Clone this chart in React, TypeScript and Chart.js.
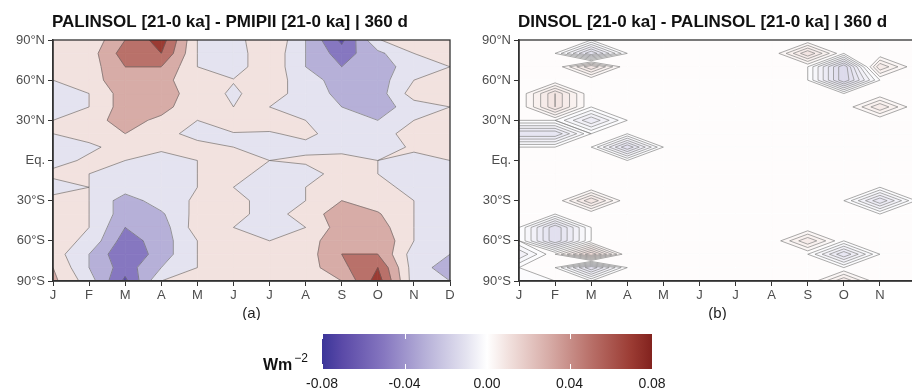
import React, { useEffect, useRef } from "react";
import { Chart, registerables } from "chart.js";

Chart.register(...registerables);

const FONT = "'Liberation Sans', Arial, Helvetica, sans-serif";
Chart.defaults.font.family = FONT;

// ---------- axes ----------
const monthLabels = ["J", "F", "M", "A", "M", "J", "J", "A", "S", "O", "N", "D"];
const monthPositions = [0, 1, 2, 3, 4, 5, 6, 7, 8, 9, 10, 11];
const gridLatitudes = [90, 80, 70, 60, 50, 40, 30, 20, 10, 0, -10, -20, -30, -40, -50, -60, -70, -80, -90];
const latTickValues = [-90, -60, -30, 0, 30, 60, 90];
const latTickLabels = ["90°S", "60°S", "30°S", "Eq.", "30°N", "60°N", "90°N"];

// ---------- panel (a): PALINSOL - PMIPII (W m-2), columns J..D ----------
const titleA = "PALINSOL [21-0 ka] - PMIPII [21-0 ka] | 360 d";
const labelA = "(a)";
const levelsA = [-0.08, -0.06, -0.04, -0.02, 0, 0.02, 0.04, 0.06, 0.08];
const a90N = [0.01, 0.005, 0.04, 0.07, 0, -0.01, 0.02, -0.02, -0.065, -0.001, 0.01, 0.01];
const a80N = [0.01, 0.01, 0.05, 0.06, 0, -0.01, 0.015, -0.02, -0.05, -0.025, 0, 0.01];
const a70N = [0.01, 0.01, 0.04, 0.04, 0, -0.01, 0.015, -0.02, -0.04, -0.03, -0.01, 0];
const a60N = [0, 0.01, 0.035, 0.03, 0, 0.001, 0.01, -0.01, -0.03, -0.03, 0, 0.01];
const a50N = [-0.01, 0, 0.03, 0.03, 0.01, -0.003, 0.01, -0.01, -0.025, -0.03, 0.01, 0.01];
const a40N = [-0.01, 0, 0.03, 0.03, 0, 0, 0, -0.01, -0.02, -0.03, -0.01, 0];
const a30N = [0, 0.01, 0.03, 0.014, 0, 0.01, 0.01, 0, -0.02, -0.02, 0, 0];
const a20N = [0, 0.01, 0.02, 0.01, -0.01, -0.001, -0.002, 0.005, -0.01, -0.01, 0.01, 0.01];
const a10N = [-0.01, -0.005, 0.01, 0.005, 0.01, 0, -0.01, -0.006, -0.01, -0.01, 0.003, 0.01];
const aEq = [-0.01, 0.005, 0, -0.01, 0, 0.01, 0, 0.004, 0.01, 0, -0.005, 0];
const a10S = [0.007, 0, -0.01, -0.01, 0, 0.01, -0.01, -0.01, 0.01, 0, -0.01, -0.01];
const a20S = [-0.013, 0, -0.01, -0.01, 0, 0, -0.01, 0, 0.015, 0.01, -0.01, -0.01];
const a30S = [0.01, 0, -0.03, -0.01, 0.003, 0.008, -0.01, 0, 0.02, 0.01, 0, -0.01];
const a40S = [0.01, 0, -0.03, -0.023, 0.007, 0.008, -0.01, 0.01, 0.03, 0.022, 0, -0.01];
const a50S = [0.01, 0, -0.04, -0.03, 0.01, 0, -0.01, 0, 0.03, 0.03, 0, -0.01];
const a60S = [0.01, -0.005, -0.05, -0.03, 0, 0.01, 0, 0.01, 0.035, 0.038, 0, -0.01];
const a70S = [0.01, -0.02, -0.058, -0.03, 0, 0.01, 0, 0.01, 0.04, 0.04, -0.01, -0.02];
const a80S = [0.02, -0.02, -0.05, -0.02, 0, 0.01, 0.01, 0.01, 0.035, 0.06, -0.01, -0.03];
const a90S = [0.025, -0.01, -0.065, 0, 0.01, 0.01, 0.01, 0.01, 0.02, 0.07, -0.01, -0.02];

// ---------- panel (b): DINSOL - PALINSOL (W m-2), columns J..D ----------
const titleB = "DINSOL [21-0 ka] - PALINSOL [21-0 ka] | 360 d";
const labelB = "(b)";
const levelsB = [-0.02, -0.018, -0.016, -0.014, -0.012, -0.01, -0.008, -0.006, -0.004, -0.002, 0,
  0.002, 0.004, 0.006, 0.008, 0.01, 0.012, 0.014, 0.016, 0.018, 0.02];
const b90N = [0, 0, 0, 0, 0, 0, 0, 0, 0, 0, 0, 0];
const b80N = [0, 0, -0.012, 0, 0, 0, 0, 0, 0.01, 0, 0, 0];
const b70N = [0, 0, 0.01, 0, 0, 0, 0, 0, 0, -0.014, 0.008, 0];
const b60N = [0, 0, 0, 0, 0, 0, 0, 0, 0, -0.014, 0, 0];
const b50N = [0, 0.01, 0, 0, 0, 0, 0, 0, 0, 0, 0, 0];
const b40N = [0, 0.01, 0, 0, 0, 0, 0, 0, 0, 0, 0.008, 0];
const b30N = [0, 0, -0.008, 0, 0, 0, 0, 0, 0, 0, 0, 0];
const b20N = [-0.01, -0.01, 0, 0, 0, 0, 0, 0, 0, 0, 0, 0];
const b10N = [0, 0, 0, -0.012, 0, 0, 0, 0, 0, 0, 0, 0];
const bEq = [0, 0, 0, 0, 0, 0, 0, 0, 0, 0, 0, 0];
const b10S = [0, 0, 0, 0, 0, 0, 0, 0, 0, 0, 0, 0];
const b20S = [0, 0, 0, 0, 0, 0, 0, 0, 0, 0, 0, 0];
const b30S = [0, 0, 0.01, 0, 0, 0, 0, 0, 0, 0, -0.01, 0];
const b40S = [0, 0, 0, 0, 0, 0, 0, 0, 0, 0, 0, 0];
const b50S = [0, -0.012, 0, 0, 0, 0, 0, 0, 0, 0, 0, 0];
const b60S = [0, -0.012, 0, 0, 0, 0, 0, 0, 0.008, 0, 0, 0];
const b70S = [-0.006, 0.002, 0.014, 0, 0, 0, 0, 0, 0, -0.01, 0, 0];
const b80S = [0, 0, -0.012, 0, 0, 0, 0, 0, 0, 0, 0, 0];
const b90S = [-0.002, 0, 0, 0, 0, 0, 0, 0, 0, 0.008, 0, 0];

// ---------- colour scale ----------
const cmapValues = [-0.08, -0.07, -0.05, -0.03, -0.01, 0, 0.01, 0.03, 0.05, 0.07, 0.08];
const cmapColors = ["#3b3599", "#5b4aa8", "#8677c0", "#b6b0d8", "#e4e3f0", "#ffffff",
  "#f2e2df", "#d7aca7", "#b9716a", "#9b3b33", "#82221e"];
const colorbarTicks = [-0.08, -0.04, 0, 0.04, 0.08];
const colorbarTickLabels = ["-0.08", "-0.04", "0.00", "0.04", "0.08"];
const colorbarUnit = "Wm";
const colorbarUnitPower = "−2";

function hexToRgb(h: string) {
  return [parseInt(h.slice(1, 3), 16), parseInt(h.slice(3, 5), 16), parseInt(h.slice(5, 7), 16)];
}
const cmapRgb = cmapColors.map(hexToRgb);
function cmap(v: number): string {
  if (v <= cmapValues[0]) return cmapColors[0];
  const n = cmapValues.length;
  if (v >= cmapValues[n - 1]) return cmapColors[n - 1];
  for (let i = 0; i < n - 1; i++) {
    if (v >= cmapValues[i] && v <= cmapValues[i + 1]) {
      const t = (v - cmapValues[i]) / (cmapValues[i + 1] - cmapValues[i]);
      const a = cmapRgb[i], b = cmapRgb[i + 1];
      const c = a.map((x, k) => Math.round(x + t * (b[k] - x)));
      return `rgb(${c[0]},${c[1]},${c[2]})`;
    }
  }
  return "#ffffff";
}

type P = { x: number; y: number; v: number; cut: boolean };

function clipPoly(poly: P[], level: number, above: boolean): P[] {
  const out: P[] = [];
  const n = poly.length;
  for (let i = 0; i < n; i++) {
    const a = poly[(i + n - 1) % n];
    const b = poly[i];
    const ain = above ? a.v >= level : a.v < level;
    const bin = above ? b.v >= level : b.v < level;
    if (ain !== bin) {
      const t = (level - a.v) / (b.v - a.v);
      out.push({ x: a.x + t * (b.x - a.x), y: a.y + t * (b.y - a.y), v: level, cut: true });
    }
    if (bin) out.push({ x: b.x, y: b.y, v: b.v, cut: false });
  }
  return out;
}

function makeContourPlugin(grid: number[][], levels: number[], lineColor: string, lineWidth: number,
  title: string, label: string) {
  return {
    id: "contourFill",
    beforeDraw(chart: any) {
      const { ctx, chartArea: ca, scales } = chart;
      const xs = monthPositions.map((m) => scales.x.getPixelForValue(m));
      const ys = gridLatitudes.map((l) => scales.y.getPixelForValue(l));
      ctx.save();
      ctx.beginPath();
      ctx.rect(ca.left, ca.top, ca.right - ca.left, ca.bottom - ca.top);
      ctx.clip();
      const bands: { lo: number; hi: number; color: string }[] = [];
      bands.push({ lo: -Infinity, hi: levels[0], color: cmap(levels[0]) });
      for (let i = 0; i < levels.length - 1; i++) {
        bands.push({ lo: levels[i], hi: levels[i + 1], color: cmap((levels[i] + levels[i + 1]) / 2) });
      }
      bands.push({ lo: levels[levels.length - 1], hi: Infinity, color: cmap(levels[levels.length - 1]) });
      const rows = grid.length, cols = grid[0].length;
      const cells: P[][] = [];
      for (let r = 0; r < rows - 1; r++) {
        for (let c = 0; c < cols - 1; c++) {
          cells.push([
            { x: xs[c], y: ys[r], v: grid[r][c], cut: false },
            { x: xs[c + 1], y: ys[r], v: grid[r][c + 1], cut: false },
            { x: xs[c + 1], y: ys[r + 1], v: grid[r + 1][c + 1], cut: false },
            { x: xs[c], y: ys[r + 1], v: grid[r + 1][c], cut: false },
          ]);
        }
      }
      ctx.lineJoin = "round";
      for (const quad of cells) {
        const vmin = Math.min(...quad.map((p) => p.v));
        const vmax = Math.max(...quad.map((p) => p.v));
        for (const band of bands) {
          if (band.lo > vmax || band.hi <= vmin) continue;
          let poly = quad;
          if (isFinite(band.lo)) poly = clipPoly(poly, band.lo, true);
          if (isFinite(band.hi)) poly = clipPoly(poly, band.hi, false);
          if (poly.length < 3) continue;
          ctx.beginPath();
          ctx.moveTo(poly[0].x, poly[0].y);
          for (let i = 1; i < poly.length; i++) ctx.lineTo(poly[i].x, poly[i].y);
          ctx.closePath();
          ctx.fillStyle = band.color;
          ctx.strokeStyle = band.color;
          ctx.lineWidth = 0.8;
          ctx.fill();
          ctx.stroke();
        }
      }
      ctx.beginPath();
      for (const level of levels) {
        for (const quad of cells) {
          const vmin = Math.min(...quad.map((p) => p.v));
          const vmax = Math.max(...quad.map((p) => p.v));
          if (!(vmin < level && vmax >= level)) continue;
          const poly = clipPoly(quad, level, true);
          const n = poly.length;
          for (let i = 0; i < n; i++) {
            const a = poly[i], b = poly[(i + 1) % n];
            if (a.cut && b.cut) {
              ctx.moveTo(a.x, a.y);
              ctx.lineTo(b.x, b.y);
            }
          }
        }
      }
      ctx.strokeStyle = lineColor;
      ctx.lineWidth = lineWidth;
      ctx.stroke();
      ctx.restore();
    },
    afterDraw(chart: any) {
      const { ctx, chartArea: ca } = chart;
      ctx.save();
      ctx.strokeStyle = "#333333";
      ctx.lineWidth = 1.3;
      ctx.strokeRect(ca.left, ca.top, ca.right - ca.left, ca.bottom - ca.top);
      ctx.fillStyle = "#111111";
      ctx.font = `bold 17px ${FONT}`;
      ctx.textAlign = "left";
      ctx.textBaseline = "alphabetic";
      ctx.fillText(title, ca.left - 1, 27);
      ctx.font = `15px ${FONT}`;
      ctx.textAlign = "center";
      ctx.fillStyle = "#222222";
      ctx.fillText(label, (ca.left + ca.right) / 2, 318);
      ctx.restore();
    },
  };
}

function panelConfig(grid: number[][], levels: number[], lineColor: string, lineWidth: number,
  title: string, label: string): any {
  return {
    type: "scatter",
    data: { datasets: [{ data: [] }] },
    options: {
      animation: false,
      responsive: false,
      maintainAspectRatio: false,
      events: [],
      layout: { padding: { left: 0, right: 16, top: 40, bottom: 0 } },
      plugins: { legend: { display: false }, tooltip: { enabled: false }, title: { display: false } },
      scales: {
        x: {
          type: "linear",
          min: 0,
          max: 11,
          afterBuildTicks: (s: any) => { s.ticks = monthPositions.map((v) => ({ value: v })); },
          afterFit: (s: any) => { s.height = 39; },
          ticks: {
            autoSkip: false,
            maxRotation: 0,
            color: "#4d4d4d",
            font: { size: 13 },
            padding: 2,
            callback: (_v: any, i: number) => monthLabels[i],
          },
          grid: { drawOnChartArea: false, drawTicks: true, tickLength: 5, color: "#333333", lineWidth: 1 },
          border: { display: true, color: "#333333", width: 1.5 },
        },
        y: {
          type: "linear",
          min: -90,
          max: 90,
          afterBuildTicks: (s: any) => { s.ticks = latTickValues.map((v) => ({ value: v })); },
          afterFit: (s: any) => { s.width = 53; },
          ticks: {
            autoSkip: false,
            color: "#4d4d4d",
            font: { size: 13 },
            padding: 3,
            callback: (_v: any, i: number) => latTickLabels[i],
          },
          grid: { drawOnChartArea: false, drawTicks: true, tickLength: 5, color: "#333333", lineWidth: 1 },
          border: { display: true, color: "#333333", width: 1.5 },
        },
      },
    },
    plugins: [makeContourPlugin(grid, levels, lineColor, lineWidth, title, label)],
  };
}

const colorbarPlugin = {
  id: "colorbarFill",
  beforeDraw(chart: any) {
    const { ctx, chartArea: ca, scales } = chart;
    const xs = scales.x;
    const w = ca.right - ca.left;
    const g = ctx.createLinearGradient(ca.left, 0, ca.right, 0);
    cmapValues.forEach((v, i) => {
      const off = Math.min(1, Math.max(0, (xs.getPixelForValue(v) - ca.left) / w));
      g.addColorStop(off, cmapColors[i]);
    });
    ctx.save();
    ctx.fillStyle = g;
    ctx.fillRect(ca.left, ca.top, w, ca.bottom - ca.top);
    ctx.strokeStyle = "#ffffff";
    ctx.lineWidth = 1;
    colorbarTicks.forEach((v) => {
      const px = Math.round(xs.getPixelForValue(v)) + 0.5;
      ctx.beginPath();
      ctx.moveTo(px, ca.top);
      ctx.lineTo(px, ca.top + 5);
      ctx.moveTo(px, ca.bottom - 5);
      ctx.lineTo(px, ca.bottom);
      ctx.stroke();
    });
    ctx.fillStyle = "#111111";
    ctx.textBaseline = "alphabetic";
    ctx.textAlign = "left";
    ctx.font = `bold 16px ${FONT}`;
    ctx.fillText(colorbarUnit, 63, 50);
    const uw = ctx.measureText(colorbarUnit).width;
    ctx.font = `12px ${FONT}`;
    ctx.fillText(colorbarUnitPower, 63 + uw + 2, 42);
    ctx.restore();
  },
};

function colorbarConfig(): any {
  return {
    type: "scatter",
    data: { datasets: [{ data: [] }] },
    options: {
      animation: false,
      responsive: false,
      maintainAspectRatio: false,
      events: [],
      layout: { padding: { left: 122, right: 48, top: 14, bottom: 0 } },
      plugins: { legend: { display: false }, tooltip: { enabled: false } },
      scales: {
        x: {
          type: "linear",
          min: -0.08,
          max: 0.08,
          afterBuildTicks: (s: any) => { s.ticks = colorbarTicks.map((v) => ({ value: v })); },
          afterFit: (s: any) => { s.height = 22; },
          ticks: {
            autoSkip: false,
            maxRotation: 0,
            color: "#1a1a1a",
            font: { size: 14 },
            padding: -1,
            callback: (_v: any, i: number) => colorbarTickLabels[i],
          },
          grid: { display: false },
          border: { display: false },
        },
        y: { display: false, min: 0, max: 1 },
      },
    },
    plugins: [colorbarPlugin],
  };
}

export default function App() {
  const aRef = useRef<HTMLCanvasElement>(null);
  const bRef = useRef<HTMLCanvasElement>(null);
  const cRef = useRef<HTMLCanvasElement>(null);
  useEffect(() => {
    const gridA = [a90N, a80N, a70N, a60N, a50N, a40N, a30N, a20N, a10N, aEq, a10S, a20S, a30S, a40S, a50S, a60S, a70S, a80S, a90S];
    const gridB = [b90N, b80N, b70N, b60N, b50N, b40N, b30N, b20N, b10N, bEq, b10S, b20S, b30S, b40S, b50S, b60S, b70S, b80S, b90S];
    const charts = [
      new Chart(aRef.current!, panelConfig(gridA, levelsA, "#5e5e5e", 0.6, titleA, labelA)),
      new Chart(bRef.current!, panelConfig(gridB, levelsB, "#858585", 0.7, titleB, labelB)),
      new Chart(cRef.current!, colorbarConfig()),
    ];
    return () => charts.forEach((c) => c.destroy());
  }, []);
  return (
    <div style={{ position: "fixed", left: 0, top: 0, width: 912, height: 391, overflow: "hidden", background: "#ffffff" }}>
      <canvas ref={aRef} width={466} height={320} style={{ position: "absolute", left: 0, top: 0, width: 466, height: 320 }} />
      <canvas ref={bRef} width={466} height={320} style={{ position: "absolute", left: 466, top: 0, width: 466, height: 320 }} />
      <canvas ref={cRef} width={500} height={71} style={{ position: "absolute", left: 200, top: 320, width: 500, height: 71 }} />
    </div>
  );
}
